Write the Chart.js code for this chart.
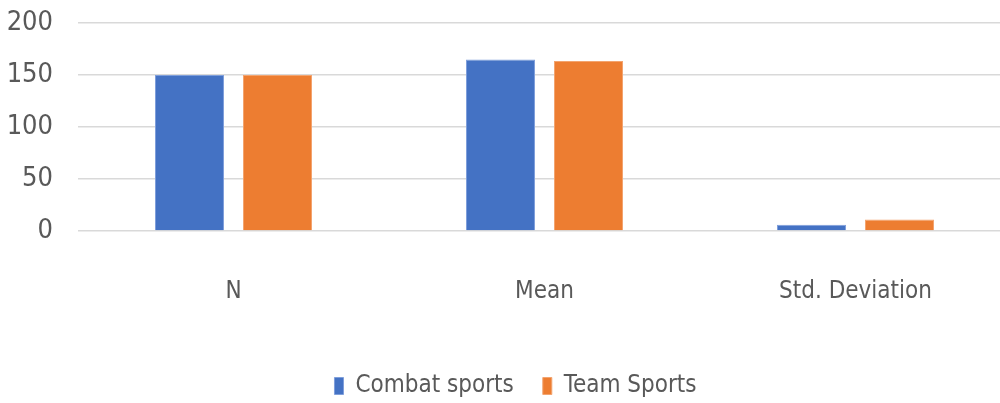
<!DOCTYPE html>
<html>
<head>
<meta charset="utf-8">
<script src="https://cdn.jsdelivr.net/npm/chart.js@4/dist/chart.umd.min.js"></script>
<style>
    body { margin: 0; overflow: hidden; background: #fff; }
    #wrap { width: 1011px; height: 403px; position: relative; }
</style>
</head>
<body>
<div id="wrap"><canvas id="myChart"></canvas></div>
<script>

var categories = ['N', 'Mean', 'Std. Deviation'];

var combatValues = [150, 165, 6];

var teamValues = [150, 163.5, 11];

var yTicks = [0, 50, 100, 150, 200];

var fontName = "'Liberation Sans Narrow', 'DejaVu Sans Condensed', sans-serif";

var textColor = '#595959';

var data = {
    labels: categories,
    datasets: [
        {
            label: 'Combat sports',
            data: combatValues,
            backgroundColor: '#4472C4',
            borderColor: '#7f9fdb',
            borderWidth: 1,
            categoryPercentage: 0.566,
            barPercentage: 0.784
        },
        {
            label: 'Team Sports',
            data: teamValues,
            backgroundColor: '#ED7D31',
            borderColor: '#f3a46f',
            borderWidth: 1,
            categoryPercentage: 0.566,
            barPercentage: 0.784
        }
    ]
};

// nudge the legend a bit to the right, like the original
var legendShift = {
    id: 'legendShift',
    afterLayout: function (chart) {
        chart.legend.left += 10;
        chart.legend.right += 10;
    }
};

var config = {
    type: 'bar',
    data: data,
    plugins: [legendShift],
    options: {
        responsive: true,
        maintainAspectRatio: false,
        animation: false,
        layout: {
            padding: { top: 23, left: 0, right: 0, bottom: -5 }
        },
        plugins: {
            tooltip: { enabled: false },
            legend: {
                position: 'bottom',
                labels: {
                    color: textColor,
                    font: { family: fontName, size: 24 },
                    boxWidth: 9,
                    boxHeight: 17,
                    padding: 29
                }
            }
        },
        scales: {
            x: {
                grid: { display: false },
                border: { display: false },
                ticks: {
                    color: textColor,
                    font: { family: fontName, size: 24 },
                    padding: 38
                },
                afterFit: function (scale) {
                    scale.height = 114;
                }
            },
            y: {
                min: 0,
                max: 200,
                afterBuildTicks: function (scale) {
                    scale.ticks = yTicks.map(function (v) { return { value: v }; });
                },
                grid: {
                    color: '#d9d9d9',
                    lineWidth: 1.5,
                    drawTicks: false
                },
                border: { display: false },
                ticks: {
                    color: textColor,
                    font: { family: fontName, size: 27 },
                    padding: 25
                },
                afterFit: function (scale) {
                    scale.width = 78;
                    scale.paddingTop = 0;
                    scale.paddingBottom = 0;
                }
            }
        }
    }
};

var chart = new Chart(document.getElementById('myChart'), config);

</script>
</body>
</html>
